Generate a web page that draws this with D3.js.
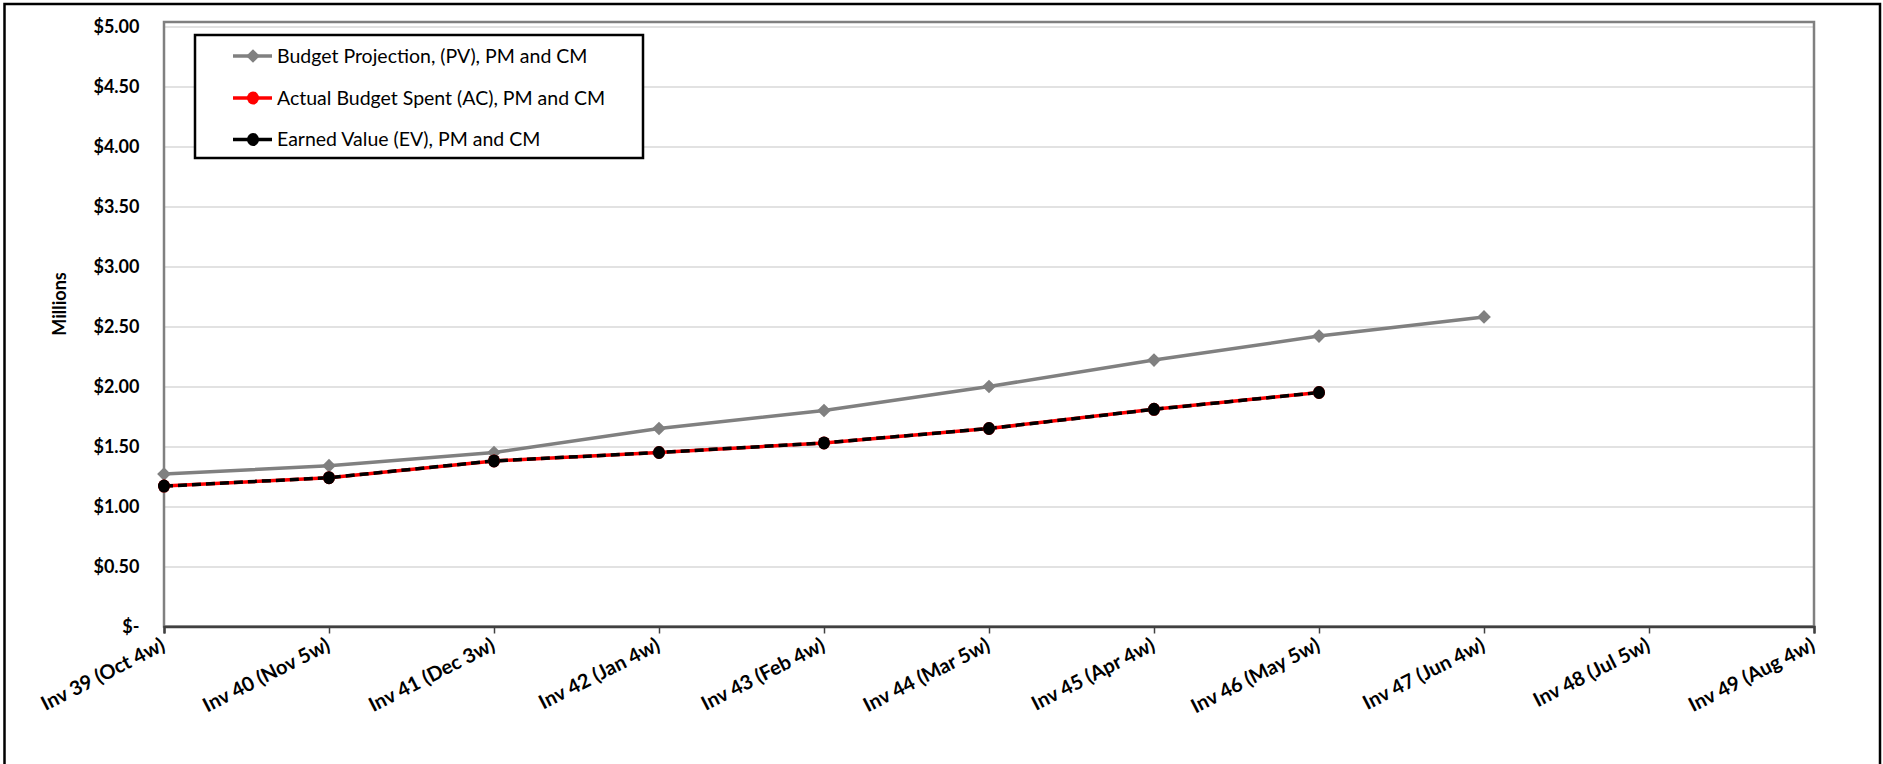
<!DOCTYPE html>
<html>
<head>
<meta charset="utf-8">
<script src="https://cdn.jsdelivr.net/npm/d3@7/dist/d3.min.js"></script>
<style>
  html, body { margin: 0; padding: 0; background: #fff; }
  svg { display: block; }
</style>
</head>
<body>
<svg id="chart" width="1883" height="764"></svg>
<script>
// ---- data ----
const categories = ["Inv 39 (Oct 4w)", "Inv 40 (Nov 5w)", "Inv 41 (Dec 3w)", "Inv 42 (Jan 4w)",
  "Inv 43 (Feb 4w)", "Inv 44 (Mar 5w)", "Inv 45 (Apr 4w)", "Inv 46 (May 5w)",
  "Inv 47 (Jun 4w)", "Inv 48 (Jul 5w)", "Inv 49 (Aug 4w)"];
const pvValues = [1.27, 1.34, 1.45, 1.65, 1.80, 2.00, 2.22, 2.42, 2.58];
const acValues = [1.17, 1.24, 1.38, 1.45, 1.53, 1.65, 1.81, 1.95];
const evValues = [1.17, 1.24, 1.38, 1.45, 1.53, 1.65, 1.81, 1.95];
const yTickValues = [0, 0.5, 1, 1.5, 2, 2.5, 3, 3.5, 4, 4.5, 5];
const yTickLabels = ["$-", "$0.50", "$1.00", "$1.50", "$2.00", "$2.50", "$3.00", "$3.50", "$4.00", "$4.50", "$5.00"];
const seriesNames = ["Budget Projection, (PV), PM and CM", "Actual Budget Spent (AC), PM and CM", "Earned Value (EV), PM and CM"];
const yTitle = "Millions";

// ---- layout ----
const svg = d3.select("#chart");
const FONT = "Lato, 'Open Sans', sans-serif";
const pLeft = 164, pRight = 1814, pTop = 26.5, pBottom = 626.5;

const x = d3.scalePoint().domain(categories).range([pLeft, pRight]).padding(0);
const y = d3.scaleLinear().domain([0, 5]).range([pBottom, pTop]);

svg.append("rect").attr("width", 1883).attr("height", 764).attr("fill", "#fff");
// outer border
svg.append("rect").attr("x", 4.5).attr("y", 4).attr("width", 1875.5).attr("height", 800)
  .attr("fill", "none").attr("stroke", "#000").attr("stroke-width", 2.5);

// gridlines
const grid = svg.append("g").attr("transform", `translate(${pLeft},0)`)
  .call(d3.axisLeft(y).tickValues(yTickValues).tickSize(-(pRight - pLeft)).tickFormat(""));
grid.select(".domain").remove();
grid.selectAll(".tick line").attr("stroke", "#d9d9d9").attr("stroke-width", 1.5);

// plot frame
svg.append("rect").attr("x", pLeft).attr("y", 22).attr("width", pRight - pLeft).attr("height", pBottom - 22)
  .attr("fill", "none").attr("stroke", "#808080").attr("stroke-width", 2.5);

// y axis labels
const yAxis = svg.append("g").attr("transform", `translate(${pLeft},0)`)
  .call(d3.axisLeft(y).tickValues(yTickValues).tickSize(0).tickPadding(24.5)
    .tickFormat((d, i) => yTickLabels[i]));
yAxis.select(".domain").remove();
yAxis.selectAll("text").attr("font-family", FONT).attr("font-weight", "bold")
  .attr("font-size", 18).attr("fill", "#000");

// x axis
const xAxis = svg.append("g").attr("transform", `translate(0,${pBottom})`)
  .call(d3.axisBottom(x).tickSize(7).tickPadding(0));
xAxis.select(".domain").attr("stroke", "#404040").attr("stroke-width", 2.5);
xAxis.selectAll(".tick line").attr("stroke", "#404040").attr("stroke-width", 1.5);
xAxis.selectAll("text")
  .attr("font-family", FONT).attr("font-weight", "bold").attr("font-size", 20).attr("fill", "#000")
  .attr("text-anchor", "end").attr("y", 0).attr("dy", 0)
  .attr("transform", "translate(2,23) rotate(-27)");

// y title
svg.append("text").attr("transform", "translate(66,304) rotate(-90)")
  .attr("text-anchor", "middle").attr("font-family", FONT).attr("font-weight", "bold")
  .attr("font-size", 18).attr("fill", "#000").text(yTitle);

// lines
const line = d3.line().x((d, i) => x(categories[i])).y(d => y(d));
svg.append("path").datum(pvValues).attr("d", line).attr("fill", "none")
  .attr("stroke", "#808080").attr("stroke-width", 3.5);
svg.append("path").datum(acValues).attr("d", line).attr("fill", "none")
  .attr("stroke", "#ff0000").attr("stroke-width", 3.5);
svg.append("path").datum(evValues).attr("d", line).attr("fill", "none")
  .attr("stroke", "#000").attr("stroke-width", 3.5).attr("stroke-dasharray", "9,5");

// markers
const diamond = d3.symbol().type(d3.symbolDiamond2).size(120);
svg.append("g").selectAll("path").data(pvValues).join("path")
  .attr("transform", (d, i) => `translate(${x(categories[i])},${y(d)})`)
  .attr("d", diamond).attr("fill", "#808080");
svg.append("g").selectAll("ellipse").data(acValues).join("ellipse")
  .attr("cx", (d, i) => x(categories[i])).attr("cy", d => y(d)).attr("rx", 6).attr("ry", 6.5).attr("fill", "#ff0000");
svg.append("g").selectAll("ellipse").data(evValues).join("ellipse")
  .attr("cx", (d, i) => x(categories[i])).attr("cy", d => y(d)).attr("rx", 6).attr("ry", 6.5).attr("fill", "#000");

// legend
const lg = svg.append("g");
lg.append("rect").attr("x", 195).attr("y", 35).attr("width", 448).attr("height", 123)
  .attr("fill", "#fff").attr("stroke", "#000").attr("stroke-width", 2.5);
const legendColors = ["#808080", "#ff0000", "#000"];
const legendY = [56, 98, 139.5];
seriesNames.forEach((name, i) => {
  const g = lg.append("g").attr("transform", `translate(0,${legendY[i]})`);
  g.append("line").attr("x1", 233).attr("x2", 272).attr("y1", 0).attr("y2", 0)
    .attr("stroke", legendColors[i]).attr("stroke-width", 3.5);
  if (i === 0) {
    g.append("path").attr("transform", "translate(253,0)").attr("d", diamond).attr("fill", legendColors[i]);
  } else {
    g.append("ellipse").attr("cx", 253).attr("cy", 0).attr("rx", 6).attr("ry", 6.5).attr("fill", legendColors[i]);
  }
  g.append("text").attr("x", 277).attr("y", 0).attr("dy", "0.35em")
    .attr("font-family", FONT).attr("font-size", 19.5).attr("fill", "#000").text(name);
});
</script>
</body>
</html>
